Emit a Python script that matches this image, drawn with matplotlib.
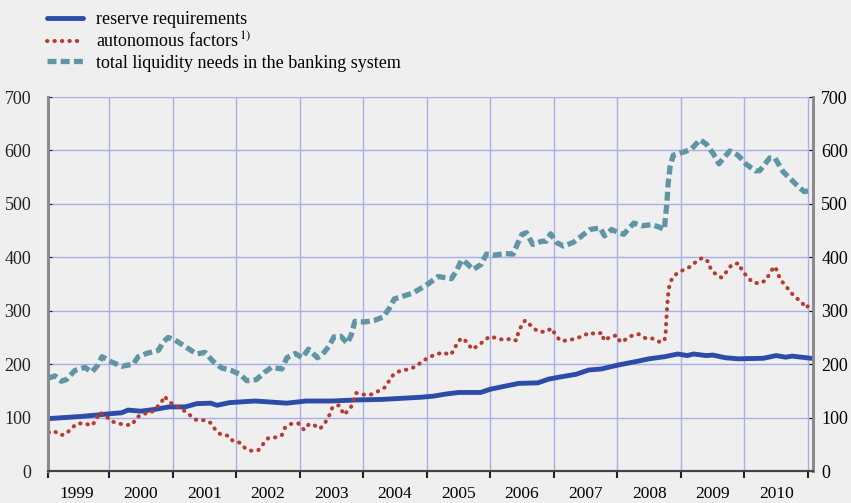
import matplotlib
matplotlib.use("Agg")
import matplotlib.pyplot as plt
import numpy as np

# liquidity needs of the euro area banking system (EUR bn)
years = ['1999', '2000', '2001', '2002', '2003', '2004', '2005',
         '2006', '2007', '2008', '2009', '2010']

res_t = [1999.04, 1999.3, 1999.55, 1999.83, 2000.0, 2000.2, 2000.3, 2000.5, 2000.7, 2000.95,
         2001.2, 2001.38, 2001.6, 2001.7, 2001.9, 2002.3, 2002.8, 2003.1, 2003.5, 2003.9,
         2004.3, 2004.6, 2004.9, 2005.1, 2005.3, 2005.5, 2005.85, 2006.0, 2006.2, 2006.45,
         2006.75, 2006.92, 2007.1, 2007.35, 2007.55, 2007.75, 2008.0, 2008.3, 2008.5, 2008.75,
         2008.95, 2009.1, 2009.2, 2009.4, 2009.5, 2009.7, 2009.9, 2010.3, 2010.5, 2010.65,
         2010.75, 2011.05]
res_v = [98, 100, 102, 105, 107, 109, 114, 112, 115, 120,
         120, 126, 127, 123, 128, 131, 127, 131, 131, 133,
         134, 136, 138, 140, 144, 147, 147, 153, 158, 164,
         165, 172, 176, 181, 189, 191, 198, 205, 210, 214,
         219, 216, 219, 216, 217, 212, 210, 211, 216, 213,
         215, 211]

aut_t = [1999.05, 1999.13, 1999.24, 1999.32, 1999.41, 1999.5, 1999.62, 1999.73, 1999.8, 1999.85,
         1999.95, 2000.04, 2000.15, 2000.27, 2000.37, 2000.43, 2000.54, 2000.66, 2000.82, 2000.87,
         2000.95, 2001.17, 2001.28, 2001.38, 2001.51, 2001.6, 2001.67, 2001.76, 2001.88, 2001.95,
         2002.06, 2002.14, 2002.23, 2002.35, 2002.43, 2002.51, 2002.63, 2002.72, 2002.77, 2002.86,
         2002.98, 2003.07, 2003.15, 2003.24, 2003.32, 2003.4, 2003.47, 2003.52, 2003.62, 2003.7,
         2003.81, 2003.89, 2004.01, 2004.12, 2004.23, 2004.35, 2004.41, 2004.48, 2004.59, 2004.7,
         2004.82, 2004.92, 2005.02, 2005.14, 2005.26, 2005.37, 2005.43, 2005.48, 2005.55, 2005.64,
         2005.71, 2005.82, 2005.91, 2006.0, 2006.11, 2006.23, 2006.34, 2006.41, 2006.44, 2006.49,
         2006.55, 2006.65, 2006.74, 2006.86, 2006.97, 2007.02, 2007.1, 2007.22, 2007.34, 2007.45,
         2007.56, 2007.67, 2007.76, 2007.79, 2007.89, 2007.99, 2008.05, 2008.13, 2008.24, 2008.34,
         2008.45, 2008.55, 2008.66, 2008.74, 2008.76, 2008.78, 2008.8, 2008.82, 2008.86, 2008.94,
         2009.05, 2009.16, 2009.25, 2009.34, 2009.44, 2009.47, 2009.56, 2009.64, 2009.72, 2009.8,
         2009.91, 2009.96, 2010.04, 2010.13, 2010.24, 2010.34, 2010.4, 2010.47, 2010.52, 2010.56,
         2010.64, 2010.72, 2010.8, 2010.9, 2010.96, 2011.05]
aut_v = [72, 75, 67, 69, 80, 89, 89, 85, 96, 110,
         103, 93, 89, 86, 87, 100, 107, 109, 127, 140,
         129, 114, 104, 95, 95, 90, 78, 68, 66, 56,
         53, 43, 38, 39, 51, 62, 63, 67, 81, 88,
         89, 77, 88, 85, 79, 90, 105, 120, 123, 105,
         120, 146, 143, 143, 149, 157, 169, 181, 188, 190,
         195, 204, 212, 218, 222, 217, 226, 240, 249, 241,
         228, 235, 245, 252, 248, 245, 248, 244, 258, 272,
         282, 271, 262, 260, 267, 256, 244, 244, 248, 252,
         259, 256, 259, 244, 251, 254, 241, 246, 254, 256,
         248, 248, 242, 243, 257, 300, 330, 347, 360, 370,
         377, 383, 393, 399, 391, 378, 367, 362, 373, 386,
         389, 376, 364, 353, 351, 357, 370, 383, 374, 359,
         348, 336, 325, 317, 305, 313]

liq_t = [1999.05, 1999.15, 1999.25, 1999.33, 1999.46, 1999.62, 1999.73, 1999.83, 1999.89, 2000.04,
         2000.2, 2000.38, 2000.46, 2000.59, 2000.78, 2000.85, 2000.93, 2001.04, 2001.12, 2001.38,
         2001.51, 2001.64, 2001.77, 2001.93, 2002.06, 2002.17, 2002.32, 2002.45, 2002.56, 2002.72,
         2002.8, 2002.93, 2003.04, 2003.14, 2003.28, 2003.35, 2003.46, 2003.54, 2003.65, 2003.75,
         2003.81, 2003.87, 2004.02, 2004.18, 2004.31, 2004.41, 2004.49, 2004.65, 2004.78, 2004.94,
         2005.02, 2005.18, 2005.39, 2005.47, 2005.55, 2005.63, 2005.73, 2005.86, 2005.94, 2006.07,
         2006.23, 2006.36, 2006.44, 2006.5, 2006.57, 2006.67, 2006.81, 2006.88, 2006.95, 2007.04,
         2007.15, 2007.31, 2007.44, 2007.57, 2007.73, 2007.8, 2007.91, 2008.02, 2008.1, 2008.26,
         2008.39, 2008.54, 2008.65, 2008.74, 2008.78, 2008.8, 2008.83, 2008.88, 2009.07, 2009.17,
         2009.3, 2009.4, 2009.51, 2009.6, 2009.77, 2009.9, 2010.03, 2010.17, 2010.24, 2010.4,
         2010.48, 2010.61, 2010.8, 2010.94, 2011.05]
liq_v = [174, 178, 168, 171, 188, 194, 185, 199, 214, 204,
         196, 200, 214, 220, 226, 241, 250, 245, 239, 219,
         222, 205, 193, 188, 181, 169, 171, 185, 194, 191,
         212, 220, 212, 228, 212, 217, 233, 251, 252, 239,
         254, 280, 279, 282, 288, 304, 322, 328, 333, 344,
         350, 364, 360, 375, 395, 389, 377, 387, 406, 404,
         407, 406, 428, 443, 446, 424, 430, 430, 444, 428,
         421, 428, 440, 452, 455, 440, 452, 446, 443, 464,
         459, 461, 457, 452, 501, 538, 569, 591, 598, 603,
         620, 612, 594, 575, 599, 591, 574, 562, 562, 586,
         586, 560, 538, 523, 525]

bg = '#efefef'
plt.rcParams['font.family'] = ['Liberation Serif', 'DejaVu Serif']
plt.rcParams['mathtext.fontset'] = 'stix'

fig = plt.figure(figsize=(8.51, 5.03), dpi=100, facecolor=bg)
ax = fig.add_axes([48 / 851, 1 - 471 / 503, (813 - 48) / 851, (471 - 97) / 503], facecolor=bg)

grid_c = '#a9aee6'
for y in range(100, 701, 100):
    ax.axhline(y, color=grid_c, lw=1.0, zorder=1)
for x in range(2000, 2012):
    ax.axvline(x, color=grid_c, lw=1.0, zorder=1)

ax.plot(res_t, res_v, color='#2c4ca8', lw=3.5, solid_capstyle='round', zorder=3,
        label='reserve requirements')
ax.plot(aut_t, aut_v, color='#b83a30', lw=2.9, linestyle=(0, (0.1, 1.75)),
        dash_capstyle='round', zorder=3, label='autonomous factors$^{\\,1)}$')
ax.plot(liq_t, liq_v, color='#5f95a4', lw=3.8, linestyle=(0, (1.7, 0.8)), zorder=3,
        label='total liquidity needs in the banking system')

ax.set_xlim(1999.04, 2011.08)
ax.set_ylim(0, 700)

ax.set_yticks(range(0, 701, 100))
ax.tick_params(axis='y', direction='in', length=3, pad=12, labelsize=13, colors='#222222')
ax.set_xticks([1999.04] + list(range(2000, 2012)))
ax.set_xticklabels([])
ax.tick_params(axis='x', which='major', direction='out', length=5, width=1.5, color='#222222')
ax.set_xticks(np.arange(1999.5, 2011, 1), minor=True)
ax.set_xticklabels(years, minor=True)
ax.tick_params(axis='x', which='minor', length=0, pad=11, labelsize=12.5)

ax2 = ax.twinx()
ax2.set_ylim(0, 700)
ax2.set_yticks(range(0, 701, 100))
ax2.tick_params(axis='y', direction='in', length=3, pad=6, labelsize=13)

for a in (ax, ax2):
    a.spines['top'].set_visible(False)
    a.spines['left'].set_color('#8a8a8a')
    a.spines['left'].set_linewidth(2)
    a.spines['right'].set_color('#8a8a8a')
    a.spines['right'].set_linewidth(2)
    a.spines['bottom'].set_color('#444444')
    a.spines['bottom'].set_linewidth(1.5)

fig.legend(loc='upper left', bbox_to_anchor=(36 / 851, 1.0), frameon=False, fontsize=13,
           handlelength=2.0, handletextpad=0.7, labelspacing=0.2, borderaxespad=0.2)

fig.savefig('out.png', dpi=100, facecolor=bg)
